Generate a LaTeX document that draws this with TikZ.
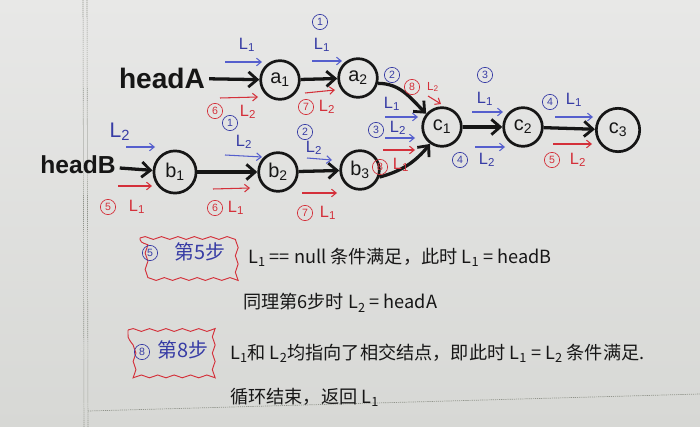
\documentclass[tikz,border=0pt]{standalone}
\usepackage{fontspec}
\setmainfont{Liberation Sans}
\newfontfamily\cjk{Noto Sans CJK SC}
\usetikzlibrary{arrows.meta,decorations.pathmorphing,calc}

\definecolor{ink}{RGB}{22,22,22}
\definecolor{penblue}{RGB}{55,60,165}
\definecolor{ptrblue}{RGB}{85,95,205}
\definecolor{penred}{RGB}{212,48,58}
\definecolor{paperA}{RGB}{232,232,231}
\definecolor{paperB}{RGB}{215,216,213}
\definecolor{ruleline}{RGB}{145,148,140}

\tikzset{
  listnode/.style={circle, draw=ink, line width=2.3pt, minimum size=33pt, inner sep=0pt,
    font=\fontsize{17}{17}\selectfont, text=ink},
  link/.style={draw=ink, line width=2.8pt,
    -{Straight Barb[length=7.5pt, width=13pt, line width=2.4pt]}},
  ptr/.style={line width=0.9pt, -{Straight Barb[length=4pt, width=6.5pt]}},
  bptr/.style={ptr, draw=ptrblue},
  rptr/.style={ptr, draw=penred},
  num/.style={circle, draw, line width=0.6pt, inner sep=0pt, minimum size=13pt,
    font=\fontsize{9}{9}\selectfont},
  bnum/.style={num, draw=penblue, text=penblue},
  rnum/.style={num, draw=penred, text=penred},
  lab/.style={font=\fontsize{14}{14}\selectfont, inner sep=0pt},
  blab/.style={lab, text=penblue},
  rlab/.style={lab, text=penred},
  note/.style={font=\cjk\fontsize{15.5}{15.5}\selectfont, anchor=west, inner sep=0pt, text=ink},
  stepnote/.style={font=\cjk\fontsize{17}{17}\selectfont, inner sep=0pt, text=penblue},
  wavy/.style={draw=penred, line width=0.8pt, decorate,
    decoration={snake, amplitude=1.2pt, segment length=14pt}},
}

\begin{document}
\begin{tikzpicture}[x=0.03cm, y=-0.03cm]
  % paper
  \useasboundingbox (0,0) rectangle (700,427);
  \shade[top color=paperA, bottom color=paperB] (0,0) rectangle (700,427);
  \draw[ruleline, line width=0.5pt, dash pattern=on 1pt off 0.7pt] (83,0) -- (84,427);
  \draw[ruleline, line width=0.5pt, dash pattern=on 1pt off 0.7pt] (87,0) -- (88,427);
  \draw[ruleline, line width=0.6pt, dash pattern=on 1pt off 0.8pt] (88,411) -- (700,394);

  % list heads
  \node[font=\bfseries\fontsize{24}{24}\selectfont, text=ink] (headA) at (162,78) {headA};
  \node[font=\bfseries\fontsize{21}{21}\selectfont, text=ink] (headB) at (78,165) {headB};

  % list nodes
  \node[listnode] (a1) at (280,80) {a\textsubscript{1}};
  \node[listnode] (a2) at (358,78) {a\textsubscript{2}};
  \node[listnode, minimum size=36pt] (b1) at (175,172) {b\textsubscript{1}};
  \node[listnode] (b2) at (278,172) {b\textsubscript{2}};
  \node[listnode] (b3) at (360,170) {b\textsubscript{3}};
  \node[listnode] (c1) at (442,127) {c\textsubscript{1}};
  \node[listnode] (c2) at (523,127) {c\textsubscript{2}};
  \node[listnode, minimum size=37pt] (c3) at (618,130) {c\textsubscript{3}};

  % next pointers
  \draw[link] (headA) -- (a1);
  \draw[link] (a1) -- (a2);
  \draw[link] (a2.-15) to[out=0, in=135] (c1.140);
  \draw[link] (headB) -- (b1);
  \draw[link] (b1) -- (b2);
  \draw[link] (b2) -- (b3);
  \draw[link] (b3.-20) to[out=15, in=-130] (c1.-125);
  \draw[link] (c1) -- (c2);
  \draw[link] (c2) -- (c3);

  % pointer L1 (blue) along list A, then c-list
  \draw[bptr] (225,62) -- (262,62);
  \node[blab] (l1a) at (247,45) {L\textsubscript{1}};
  \draw[bptr] (312,61) -- (342,61);
  \node[blab] (l1b) at (322,45) {L\textsubscript{1}};
  \node[bnum] (s1a) at (320,22) {1};
  \node[bnum] (s2a) at (392,75) {2};
  \draw[bptr] (385,117) -- (418,117);
  \node[blab] (l1c) at (392,104) {L\textsubscript{1}};
  \draw[bptr] (472,112) -- (503,112);
  \node[blab] (l1d) at (485,99) {L\textsubscript{1}};
  \node[bnum] (s3a) at (485,75) {3};
  \draw[bptr] (555,117) -- (593,117);
  \node[blab] (l1e) at (574,100) {L\textsubscript{1}};
  \node[bnum] (s4a) at (550,102) {4};

  % pointer L2 (blue) along list B, then c-list
  \draw[bptr] (126,147) -- (155,147);
  \node[blab, font=\fontsize{18}{18}\selectfont] (l2a) at (120,132) {L\textsubscript{2}};
  \draw[bptr] (225,155) -- (262,157);
  \node[blab] (l2b) at (244,142) {L\textsubscript{2}};
  \node[bnum] (s1b) at (230,123) {1};
  \draw[bptr] (307,158) -- (332,160);
  \node[blab] (l2c) at (314,148) {L\textsubscript{2}};
  \node[bnum] (s2b) at (305,132) {2};
  \draw[bptr] (385,138) -- (415,138);
  \node[blab] (l2d) at (398,128) {L\textsubscript{2}};
  \node[bnum] (s3b) at (376,130) {3};
  \draw[bptr] (475,147) -- (505,147);
  \node[blab] (l2e) at (487,160) {L\textsubscript{2}};
  \node[bnum] (s4b) at (460,160) {4};

  % second pass (red): L1 through list B, L2 through list A
  \draw[rptr] (118,186) -- (152,186);
  \node[rnum] (s5a) at (108,207) {5};
  \node[rlab] (r1a) at (137,207) {L\textsubscript{1}};
  \draw[rptr] (213,189) -- (250,188);
  \node[rnum] (s6a) at (215,208) {6};
  \node[rlab] (r1b) at (236,208) {L\textsubscript{1}};
  \draw[rptr] (302,193) -- (337,193);
  \node[rnum] (s7a) at (305,213) {7};
  \node[rlab] (r1c) at (328,213) {L\textsubscript{1}};
  \draw[rptr] (383,150) -- (415,150);
  \node[rnum] (s8a) at (380,167) {8};
  \node[rlab] (r1d) at (401,165) {L\textsubscript{1}};

  \draw[rptr] (220,98) -- (258,97);
  \node[rnum] (s6b) at (215,111) {6};
  \node[rlab] (r2a) at (248,112) {L\textsubscript{2}};
  \draw[rptr] (305,93) -- (335,90);
  \node[rnum] (s7b) at (306,107) {7};
  \node[rlab] (r2b) at (327,107) {L\textsubscript{2}};
  \draw[rptr] (428,96) -- (441,104);
  \node[rnum] (s8b) at (412,87) {8};
  \node[rlab, font=\fontsize{10}{10}\selectfont] (r2c) at (433,87) {L\textsubscript{2}};
  \draw[rptr] (553,144) -- (592,144);
  \node[rnum] (s5b) at (552,160) {5};
  \node[rlab] (r2d) at (578,160) {L\textsubscript{2}};

  % explanation of step 5
  \draw[wavy] (140,238) -- (233,238) -- (233,278) -- (140,278) -- cycle;
  \node[bnum] (k5) at (150,253) {5};
  \node[stepnote] (k5t) at (200,252) {第5步};
  \node[note] (t1) at (248,257) {L\textsubscript{1} == null 条件满足，此时 L\textsubscript{1} = headB};
  \node[note] (t2) at (243,303) {同理第6步时 L\textsubscript{2} = headA};

  % explanation of step 8
  \draw[wavy] (128,330) -- (213,330) -- (213,375) -- (128,375) -- cycle;
  \node[bnum] (k8) at (142,352) {8};
  \node[stepnote] (k8t) at (183,350) {第8步};
  \node[note] (t3) at (230,353) {L\textsubscript{1}和 L\textsubscript{2}均指向了相交结点，即此时 L\textsubscript{1} = L\textsubscript{2} 条件满足.};
  \node[note] (t4) at (230,397) {循环结束，返回 L\textsubscript{1}};
\end{tikzpicture}
\end{document}
